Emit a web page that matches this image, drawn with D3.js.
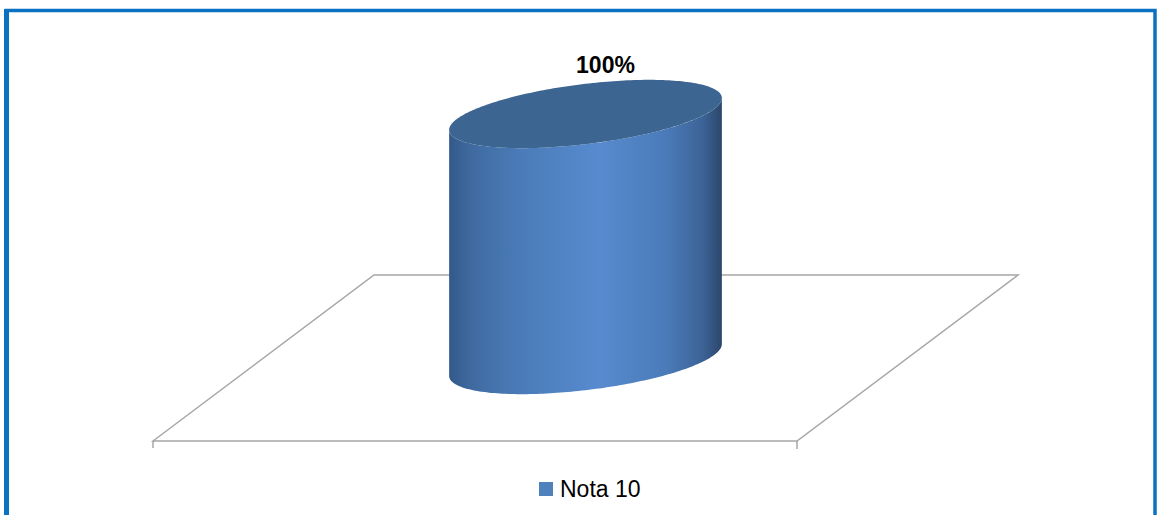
<!DOCTYPE html>
<html><head><meta charset="utf-8">
<script src="https://cdn.jsdelivr.net/npm/d3@7"></script>
<style>html,body{margin:0;padding:0;background:#fff;}svg{display:block;}</style>
</head><body>
<svg id="c" width="1158" height="515"></svg>
<script>
const categories = ["Nota 10"];
const values = [100];
const labels = ["100%"];
const legendLabels = ["Nota 10"];

const svg = d3.select("#c");
// border
svg.append("rect").attr("x", 6.5).attr("y", 10.5).attr("width", 1148.5).attr("height", 520)
  .attr("fill", "none").attr("stroke", "#0b72c2").attr("stroke-width", 3.5);
svg.append("rect").attr("x", 4).attr("y", 9).attr("width", 5).attr("height", 520).attr("fill", "#0b72c2");

// floor geometry
const backY = 275, frontY = 441, backL = 374, frontL = 153, width = 644;
const midY = (backY + frontY) / 2, midL = (backL + frontL) / 2;
const floor = svg.append("g");
floor.append("path")
  .attr("d", `M${frontL},${frontY}L${backL},${backY}L${backL + width},${backY}L${frontL + width},${frontY}Z`)
  .attr("fill", "none").attr("stroke", "#a6a6a6").attr("stroke-width", 1.5);
floor.append("line").attr("x1", frontL).attr("x2", frontL).attr("y1", frontY).attr("y2", frontY + 7)
  .attr("stroke", "#a6a6a6").attr("stroke-width", 1.5);
floor.append("line").attr("x1", frontL + width).attr("x2", frontL + width).attr("y1", frontY).attr("y2", frontY + 8)
  .attr("stroke", "#a6a6a6").attr("stroke-width", 1.5);

const x = d3.scaleBand().domain(categories).range([midL, midL + width]).padding(0.405);
const baseY = 360;
const y = d3.scaleLinear().domain([0, 100]).range([baseY, 114]);

const defs = svg.append("defs");
const grad = defs.append("linearGradient").attr("id", "side").attr("gradientUnits", "objectBoundingBox")
  .attr("x1", 0).attr("x2", 1).attr("y1", 0).attr("y2", 0);
[[0, "#33598a"], [0.08, "#3f6aa0"], [0.25, "#4a7bb7"], [0.55, "#578bcf"], [0.8, "#4a7ab8"], [0.93, "#3c6396"], [1, "#2c466b"]]
  .forEach(([o, c]) => grad.append("stop").attr("offset", o).attr("stop-color", c));

const theta = -7 * Math.PI / 180;
function ellPoint(cx, cy, a, b, t) {
  const ex = a * Math.cos(t), ey = b * Math.sin(t);
  return [cx + ex * Math.cos(theta) - ey * Math.sin(theta), cy + ex * Math.sin(theta) + ey * Math.cos(theta)];
}

categories.forEach((cat, i) => {
  const cx = x(cat) + x.bandwidth() / 2;
  const hw = x.bandwidth() / 2;
  const b = 30;
  const a = Math.sqrt((hw * hw - b * b * Math.sin(theta) ** 2) / Math.cos(theta) ** 2);
  const topY = y(values[i]);
  const tx = Math.atan2(-b * Math.sin(theta), a * Math.cos(theta));
  const N = 120;
  const topArc = [], botArc = [];
  for (let k = 0; k <= N; k++) topArc.push(ellPoint(cx, topY, a, b, tx + Math.PI * k / N));
  for (let k = N; k >= 0; k--) botArc.push(ellPoint(cx, baseY, a, b, tx + Math.PI * k / N));
  const side = topArc.concat(botArc);
  svg.append("path").attr("d", d3.line()(side) + "Z").attr("fill", "url(#side)");
  const top = [];
  for (let k = 0; k <= 2 * N; k++) top.push(ellPoint(cx, topY, a, b, Math.PI * k / N));
  svg.append("path").attr("d", d3.line()(top) + "Z").attr("fill", "#3d6592");

  svg.append("text").attr("x", cx + 20).attr("y", topY - 41).attr("text-anchor", "middle")
    .attr("font-family", "Liberation Sans, Arial, sans-serif").attr("font-weight", "bold")
    .attr("font-size", 23).attr("fill", "#000").text(labels[i]);
});

// legend
const lg = svg.append("g");
lg.append("rect").attr("x", 539).attr("y", 482).attr("width", 14).attr("height", 14).attr("fill", "#4f81bd");
lg.append("text").attr("x", 560).attr("y", 497).attr("font-family", "Liberation Sans, Arial, sans-serif")
  .attr("font-size", 23).attr("fill", "#000").text(legendLabels[0]);
</script>
</body></html>
